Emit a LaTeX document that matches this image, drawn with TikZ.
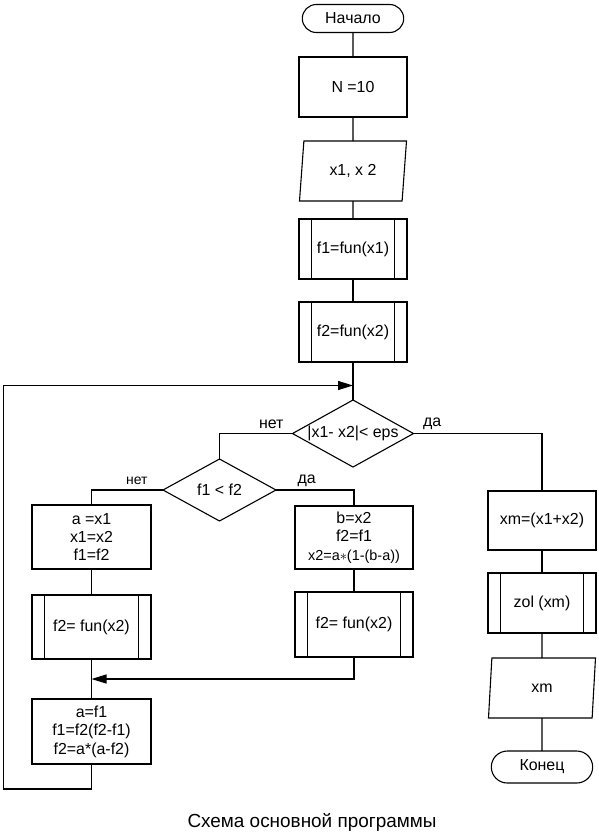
\documentclass[tikz,border=0pt]{standalone}
\usepackage{fontspec}
\setmainfont{Liberation Sans}
\usetikzlibrary{arrows.meta, positioning, shapes.geometric, shapes.misc}

\begin{document}
\begin{tikzpicture}[
    x=1bp, y=-1bp,
    line width=1.1bp,
    node distance=24bp,
    every node/.style={font=\fontsize{16}{18.5}\selectfont},
    term/.style={draw, rounded rectangle, outer sep=0pt, minimum width=108bp, minimum height=28bp},
    proc/.style={draw, rectangle, outer sep=0pt, minimum width=108bp, minimum height=60bp, align=center},
    io/.style={draw, trapezium, outer sep=0pt, trapezium left angle=77.5, trapezium right angle=102.5,
               trapezium stretches body, minimum width=107bp, minimum height=60bp},
    pred/.style={proc, path picture={
        \draw ([xshift=12.5bp]path picture bounding box.north west)
            -- ([xshift=12.5bp]path picture bounding box.south west);
        \draw ([xshift=-12.5bp]path picture bounding box.north east)
            -- ([xshift=-12.5bp]path picture bounding box.south east);}},
    dec/.style={draw, diamond, outer sep=0pt, aspect=1.8, inner sep=0pt},
    lbl/.style={inner sep=1bp},
    arr/.style={-{Triangle[length=15bp, width=9bp]}}
]
    \useasboundingbox (0,0) rectangle (599,835);

    % main column
    \node[term] (start) at (353,18.5) {Начало};
    \node[proc, below=24.5bp of start] (init) {N =10};
    \node[io, below=24bp of init] (inp) {x1, x 2};
    \node[pred, below=18bp of inp] (fx1) {f1=fun(x1)};
    \node[pred, below=23bp of fx1] (fx2) {f2=fun(x2)};
    \node[dec, minimum width=121bp, minimum height=67bp, below=38bp of fx2] (chk) {|x1- x2|< eps};

    % inner loop body
    \node[dec, minimum width=113bp, minimum height=62bp] (cmp) at (219.5,490) {f1 < f2};
    \node[proc, minimum width=119bp, minimum height=64bp] (swpa) at (91.5,537) {a =x1\\x1=x2\\f1=f2};
    \node[pred, minimum width=119bp, minimum height=64bp, below=26bp of swpa] (fna) {f2= fun(x2)};
    \node[proc, minimum width=118bp, minimum height=63bp] (swpb) at (354,537.5)
        {b=x2\\f2=f1\\{\fontsize{14.5}{18.5}\selectfont x2=a$\ast$(1-(b-a))}};
    \node[pred, minimum width=118bp, minimum height=65bp, below=23bp of swpb] (fnb) {f2= fun(x2)};
    \node[proc, minimum width=119bp, minimum height=65bp] (upd) at (91.5,731.5) {a=f1\\f1=f2(f2-f1)\\f2=a*(a-f2)};

    % exit column
    \node[proc, minimum height=59bp] (mid) at (542,520.5) {xm=(x1+x2)};
    \node[pred, below=23bp of mid] (zol) {zol (xm)};
    \node[io, below=25bp of zol] (outp) {xm};
    \node[term, minimum height=32bp, below=33bp of outp] (stop) {Конец};

    \node (cap) at (312,822) {\fontsize{19}{22}\selectfont Схема основной программы};

    % branch labels
    \node[lbl, above left=3.5bp and 7.5bp of chk.west] {нет};
    \node[lbl, above right=2bp and 8bp of chk.east] {да};
    \node[lbl, above left=4bp and 14bp of cmp.west, font=\fontsize{14}{16}\selectfont] {нет};
    \node[lbl, above right=1.5bp and 20bp of cmp.east] {да};

    \coordinate (back) at (353,385.5);
    \coordinate (lb) at (3.5,789);
    \coordinate (mrg) at (91.5,679);

    \draw (start) -- (init);
    \draw (init) -- (inp);
    \draw (inp) -- (fx1);
    \draw (fx1) -- (fx2);
    \draw (fx2) -- (chk);
    \draw (chk.west) -| (cmp.north);
    \draw (chk.east) -| (mid.north);
    \draw (cmp.west) -| (swpa.north);
    \draw (cmp.east) -| (swpb.north);
    \draw (swpa) -- (fna);
    \draw (swpb) -- (fnb);
    \draw (fna) -- (upd);
    \draw[arr] (fnb.south) |- (mrg);
    \draw[arr] (upd.south) |- (lb) |- (back);
    \draw (mid) -- (zol);
    \draw (zol) -- (outp);
    \draw (outp) -- (stop);
\end{tikzpicture}
\end{document}
